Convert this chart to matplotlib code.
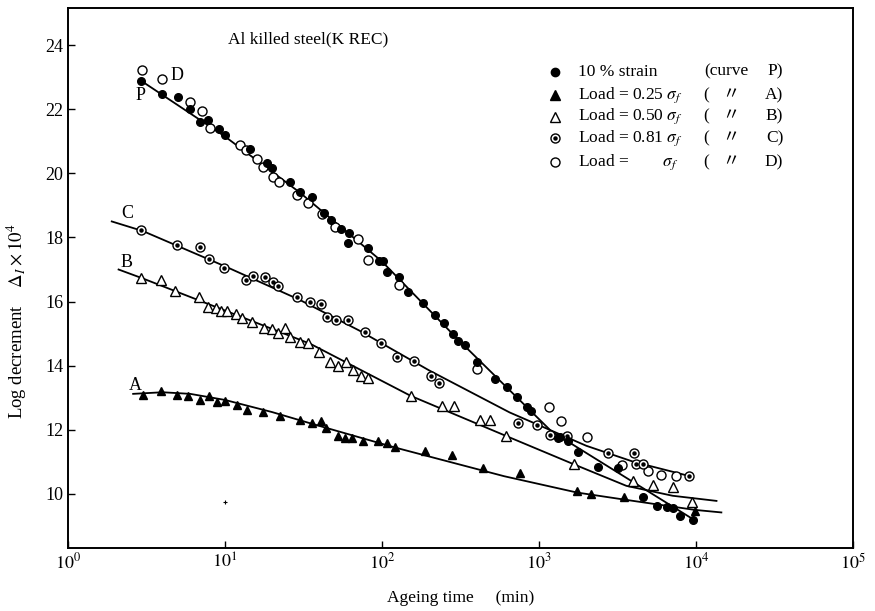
import numpy as np
import matplotlib
matplotlib.use('Agg')
import matplotlib.pyplot as plt
from matplotlib.ticker import NullLocator, FixedLocator

plt.rcParams['font.family'] = ['Liberation Serif', 'Noto Sans CJK JP']
plt.rcParams['mathtext.fontset'] = 'stix'

### --- data --- ###

# curve P : 10 % strain (filled circles)
p_t = [2.9, 3.95, 5.0, 6.0, 6.9, 7.8, 9.1, 10, 14.4, 18.4, 19.8, 25.9, 30, 35.6, 43, 47, 55, 62, 61,
       81, 95, 102, 108, 129, 147, 183, 218, 249, 285, 306, 338, 401, 525, 622, 721, 835, 885,
       1330, 1360, 1540, 1780, 2390, 3200, 4620, 5620, 6500, 7170, 7900, 9610]
p_y = [22.88, 22.49, 22.38, 22.02, 21.60, 21.66, 21.37, 21.19, 20.77, 20.32, 20.18, 19.73, 19.42, 19.26,
       18.76, 18.53, 18.27, 18.13, 17.82, 17.68, 17.28, 17.28, 16.92, 16.76, 16.31, 15.95, 15.59, 15.32,
       14.99, 14.78, 14.63, 14.10, 13.58, 13.32, 13.01, 12.70, 12.59, 11.74, 11.76, 11.66, 11.32, 10.84,
       10.80, 9.89, 9.62, 9.60, 9.57, 9.31, 9.19]

# curve D : load = sigma (open circles)
d_t = [2.94, 3.95, 5.98, 7.1, 8.0, 12.5, 13.6, 15.9, 17.5, 20.3, 22.2, 28.6, 34, 41.3, 50.2, 70.7,
       81.8, 129, 401, 1164, 1380, 2030, 3365, 4970, 5960, 7460]
d_y = [23.24, 22.93, 22.23, 21.95, 21.43, 20.88, 20.72, 20.46, 20.20, 19.88, 19.73, 19.34, 19.07, 18.74,
       18.34, 17.96, 17.30, 16.52, 13.90, 12.70, 12.26, 11.78, 10.91, 10.70, 10.59, 10.56]

# curve C : load = 0.81 sigma (dotted circles)
c_t = [2.92, 4.92, 6.93, 7.94, 9.9, 13.7, 15, 18, 20.3, 21.9, 28.9, 34.8, 40.7, 44.4, 50.7, 60.4, 78,
       98, 125, 160, 204, 232, 738, 975, 1175, 1500, 2770, 4050, 4150, 4575, 9060]
c_y = [18.22, 17.77, 17.70, 17.33, 17.05, 16.66, 16.79, 16.78, 16.60, 16.50, 16.14, 15.98, 15.93, 15.53,
       15.44, 15.44, 15.06, 14.71, 14.26, 14.13, 13.69, 13.46, 12.20, 12.16, 11.83, 11.81, 11.29, 11.29,
       10.93, 10.93, 10.56]

# curve B : load = 0.50 sigma (open triangles)
b_t = [2.9, 3.9, 4.8, 6.86, 7.83, 8.77, 9.5, 10.3, 11.7, 12.8, 14.8, 17.7, 19.8, 21.9, 24.1, 25.9, 30,
       34, 39.9, 46.6, 52.7, 59, 65, 73.2, 81.8, 152, 240, 288, 421, 487, 616, 1670, 3950, 5350, 7100, 9380]
b_y = [16.74, 16.66, 16.32, 16.14, 15.82, 15.80, 15.70, 15.70, 15.62, 15.49, 15.35, 15.18, 15.15, 15.01,
       15.18, 14.88, 14.73, 14.70, 14.42, 14.10, 14.00, 14.10, 13.86, 13.69, 13.62, 13.06, 12.75, 12.75,
       12.30, 12.30, 11.81, 10.93, 10.41, 10.27, 10.20, 9.73]

# curve A : load = 0.25 sigma (filled triangles)
a_t = [3.02, 3.9, 4.92, 5.84, 6.93, 7.94, 8.85, 10, 11.9, 13.9, 17.4, 22.4, 30, 35.6, 40.7, 44, 52.7,
       58.1, 64.1, 76, 94.8, 107, 121, 188, 278, 442, 757, 1750, 2130, 3480, 9860]
a_y = [13.09, 13.20, 13.09, 13.04, 12.94, 13.04, 12.88, 12.91, 12.78, 12.62, 12.54, 12.44, 12.30, 12.20,
       12.28, 12.07, 11.81, 11.74, 11.74, 11.64, 11.66, 11.60, 11.45, 11.34, 11.22, 10.82, 10.65, 10.09,
       10.01, 9.91, 9.47]

# hand drawn fit curves (knots)
pl_t = [2.9, 10, 30, 100, 300, 1200, 10000]
pl_y = [22.9, 21.15, 19.4, 17.25, 14.85, 11.95, 9.15]
cl_t = [1.9, 3, 10, 30, 72, 200, 650, 2000, 4000, 9000]
cl_y = [18.5, 18.2, 17.1, 16.05, 15.09, 13.85, 12.54, 11.5, 11.0, 10.56]
bl_t = [2.1, 3, 10, 35, 152, 650, 1670, 3600, 7100, 13500]
bl_y = [17.0, 16.72, 15.72, 14.68, 13.06, 11.76, 10.92, 10.25, 9.94, 9.78]
al_t = [2.6, 4, 6, 10, 20, 35, 120, 600, 1750, 3500, 9800, 14500]
al_y = [13.12, 13.17, 13.12, 12.93, 12.55, 12.2, 11.45, 10.55, 10.04, 9.82, 9.5, 9.42]

# small speck on the scan
speck_t = [10.0]
speck_y = [9.75]

x_ticks = [1, 10, 100, 1000, 10000, 100000]
x_ticklabels = ['$10^0$', '$10^1$', '$10^2$', '$10^3$', '$10^4$', '$10^5$']
y_ticks = [10, 12, 14, 16, 18, 20, 22, 24]

legend_rows = [
    ('10 % strain', '(curve', 'P)'),
    ('Load = 0.25 $\\sigma_f$', '(   \u3003', 'A)'),
    ('Load = 0.50 $\\sigma_f$', '(   \u3003', 'B)'),
    ('Load = 0.81 $\\sigma_f$', '(   \u3003', 'C)'),
    ('Load =        $\\sigma_f$', '(   \u3003', 'D)'),
]

### --- plot --- ###

fig = plt.figure(figsize=(8.75, 6.11), dpi=100)
ax = fig.add_axes([0.0777, 0.1031, 0.8972, 0.8838])

lk = dict(color='black', lw=1.3, zorder=2)
ax.plot(pl_t, pl_y, **lk)
ax.plot(cl_t, cl_y, **lk)
ax.plot(bl_t, bl_y, **lk)
ax.plot(al_t, al_y, **lk)

ax.plot(p_t, p_y, 'o', ms=5.5, mfc='black', mec='black', zorder=4)
ax.plot(d_t, d_y, 'o', ms=6.5, mfc='white', mec='black', mew=1.0, zorder=3)
ax.plot(c_t, c_y, 'o', ms=6.5, mfc='white', mec='black', mew=1.0, zorder=3)
ax.plot(c_t, c_y, 'o', ms=2.2, mfc='black', mec='black', zorder=3)
ax.plot(b_t, b_y, '^', ms=6.5, mfc='white', mec='black', mew=1.0, zorder=3)
ax.plot(a_t, a_y, '^', ms=6, mfc='black', mec='black', zorder=3)
ax.plot(speck_t, speck_y, '+', ms=3, color='black', mew=0.8)

# curve letters
ax.text(2.9, 22.44, 'P', fontsize=13, ha='center', va='center')
ax.text(4.97, 23.06, 'D', fontsize=13, ha='center', va='center')
ax.text(2.4, 18.74, 'C', fontsize=13, ha='center', va='center')
ax.text(2.36, 17.23, 'B', fontsize=13, ha='center', va='center')
ax.text(2.67, 13.38, 'A', fontsize=13, ha='center', va='center')

ax.text(10.45, 24.18, 'Al killed steel(K REC)', fontsize=12.5, ha='left', va='center')

# legend drawn by hand
row_y = [0.882, 0.839, 0.799, 0.759, 0.715]
for i, (lab, mid, end) in enumerate(legend_rows):
    yy = row_y[i]
    if i == 0:
        ax.plot(0.620, yy, 'o', ms=6, mfc='black', mec='black', transform=ax.transAxes, clip_on=False)
    elif i == 1:
        ax.plot(0.620, yy, '^', ms=6.5, mfc='black', mec='black', transform=ax.transAxes, clip_on=False)
    elif i == 2:
        ax.plot(0.620, yy, '^', ms=6.5, mfc='white', mec='black', transform=ax.transAxes, clip_on=False)
    elif i == 3:
        ax.plot(0.620, yy, 'o', ms=6.5, mfc='white', mec='black', transform=ax.transAxes, clip_on=False)
        ax.plot(0.620, yy, 'o', ms=2.2, mfc='black', mec='black', transform=ax.transAxes, clip_on=False)
    else:
        ax.plot(0.620, yy, 'o', ms=6.5, mfc='white', mec='black', transform=ax.transAxes, clip_on=False)
    ax.text(0.650, yy, lab, fontsize=12.5, ha='left', va='center', transform=ax.transAxes)
    ax.text(0.810, yy, mid, fontsize=12.5, ha='left', va='center', transform=ax.transAxes)
    ax.text(0.911, yy, end, fontsize=12.5, ha='right', va='center', transform=ax.transAxes)

ax.set_xscale('log')
ax.set_xlim(1, 1e5)
ax.set_ylim(8.31, 25.16)
ax.xaxis.set_major_locator(FixedLocator(x_ticks))
ax.xaxis.set_minor_locator(NullLocator())
ax.set_xticklabels(x_ticklabels)
ax.set_yticks(y_ticks)

ax.tick_params(direction='in', length=5, width=1, labelsize=13, top=False, right=False)
for s in ax.spines.values():
    s.set_linewidth(1.4)

ax.set_xlabel('Ageing time     (min)', fontsize=12.5, labelpad=12)
ax.set_ylabel('Log decrement    $\\Delta_I \\times 10^4$', fontsize=13.5)
ax.yaxis.set_label_coords(-0.05, 0.42)

fig.savefig('out.png', dpi=100)
